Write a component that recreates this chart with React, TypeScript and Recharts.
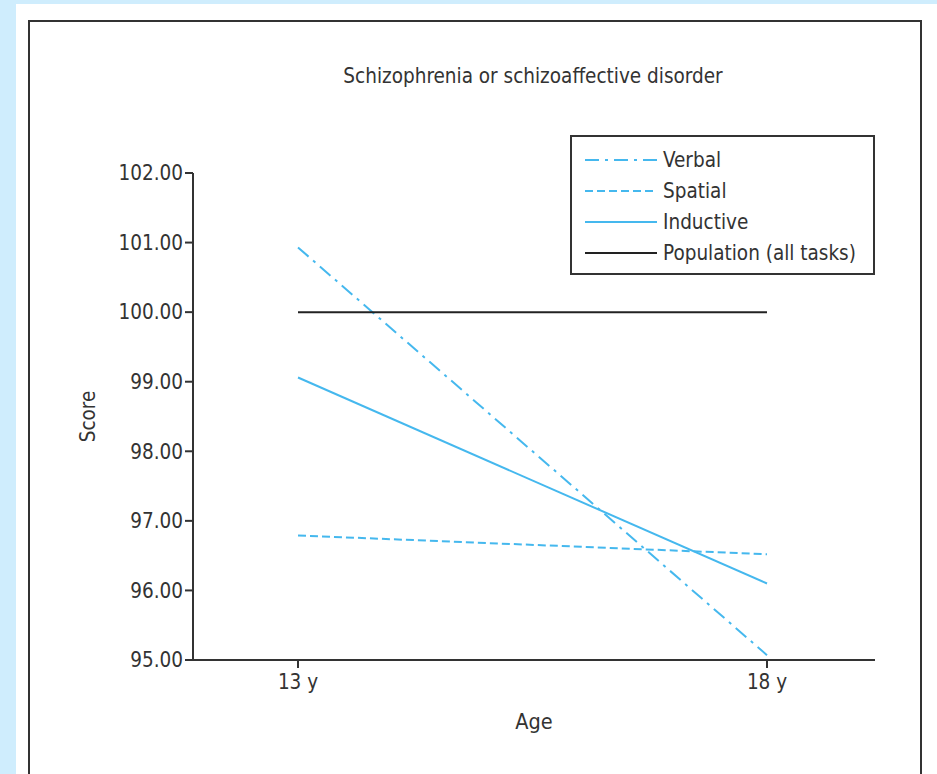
import { LineChart, Line, XAxis, YAxis, Label } from 'recharts'

const ages = ['13 y', '18 y']
const verbal = [100.93, 95.07]
const spatial = [96.79, 96.52]
const inductive = [99.06, 96.1]
const population = [100, 100]
const yTicks = [95, 96, 97, 98, 99, 100, 101, 102]

const series = [
  { key: 'verbal', name: 'Verbal', color: '#45b8ee', dash: '14 6 3 6' },
  { key: 'spatial', name: 'Spatial', color: '#45b8ee', dash: '8 4' },
  { key: 'inductive', name: 'Inductive', color: '#45b8ee', dash: undefined },
  { key: 'population', name: 'Population (all tasks)', color: '#222', dash: undefined },
]

const data = ages.map((age, i) => ({
  age,
  verbal: verbal[i],
  spatial: spatial[i],
  inductive: inductive[i],
  population: population[i],
}))

const FONT = '"DejaVu Sans Condensed", "Liberation Sans", sans-serif'
const INK = '#333'
const FS = 20.5

const ScoreLabel = ({ viewBox }: any) => {
  const x = viewBox.x + 15
  const y = viewBox.y + viewBox.height / 2
  return (
    <text x={x} y={y} transform={`rotate(-90 ${x} ${y})`} textAnchor="middle" dominantBaseline="central"
      fontFamily={FONT} fontSize={FS} fill={INK}>Score</text>
  )
}

function LegendBox() {
  return (
    <div style={{ position: 'absolute', left: 570, top: 135, width: 301, height: 136, border: `2px solid ${INK}`, background: '#fff' }}>
      {series.map((s, i) => (
        <div key={s.key} style={{ position: 'absolute', left: 13, top: 10 + i * 31, height: 26, display: 'flex', alignItems: 'center' }}>
          <svg width={72} height={6}>
            <line x1={0} y1={3} x2={72} y2={3} stroke={s.color} strokeWidth={2} strokeDasharray={s.dash} />
          </svg>
          <span style={{ marginLeft: 6, fontFamily: FONT, fontSize: FS, color: INK }}>{s.name}</span>
        </div>
      ))}
    </div>
  )
}

export default function App() {
  return (
    <div style={{ position: 'absolute', left: 0, top: 0, width: 937, height: 774, background: '#cfedfd', overflow: 'hidden' }}>
      <div style={{ position: 'absolute', left: 16, top: 4, width: 921, height: 770, background: '#fff' }} />
      <div style={{ position: 'absolute', left: 28, top: 20, width: 890, height: 770, border: `2px solid ${INK}` }} />
      <div style={{ position: 'absolute', left: 233, top: 64, width: 600, textAlign: 'center', fontFamily: FONT, fontSize: FS, color: INK }}>
        Schizophrenia or schizoaffective disorder
      </div>
      <div style={{ position: 'absolute', left: 0, top: 0 }}>
        <LineChart width={937} height={774} data={data} margin={{ top: 173, right: 62, bottom: 84, left: 73 }}>
          <XAxis dataKey="age" padding={{ left: 105, right: 108 }} height={30} tickSize={8}
            axisLine={{ stroke: INK, strokeWidth: 2 }} tickLine={{ stroke: INK, strokeWidth: 2 }}
            tick={{ fontFamily: FONT, fontSize: FS, fill: INK, dy: 4 }}>
            <Label value="Age" position="bottom" offset={24} style={{ fontFamily: FONT, fontSize: FS + 1, fill: INK }} />
          </XAxis>
          <YAxis domain={[95, 102]} ticks={yTicks} width={120} tickSize={8} interval={0}
            tickFormatter={(v: number) => v.toFixed(2)}
            axisLine={{ stroke: INK, strokeWidth: 2 }} tickLine={{ stroke: INK, strokeWidth: 2 }}
            tick={{ fontFamily: FONT, fontSize: FS, fill: INK }}>
            <Label content={<ScoreLabel />} />
          </YAxis>
          {series.map(s => (
            <Line key={s.key} dataKey={s.key} stroke={s.color} strokeWidth={2} strokeDasharray={s.dash}
              dot={false} activeDot={false} isAnimationActive={false} />
          ))}
        </LineChart>
      </div>
      <LegendBox />
    </div>
  )
}
